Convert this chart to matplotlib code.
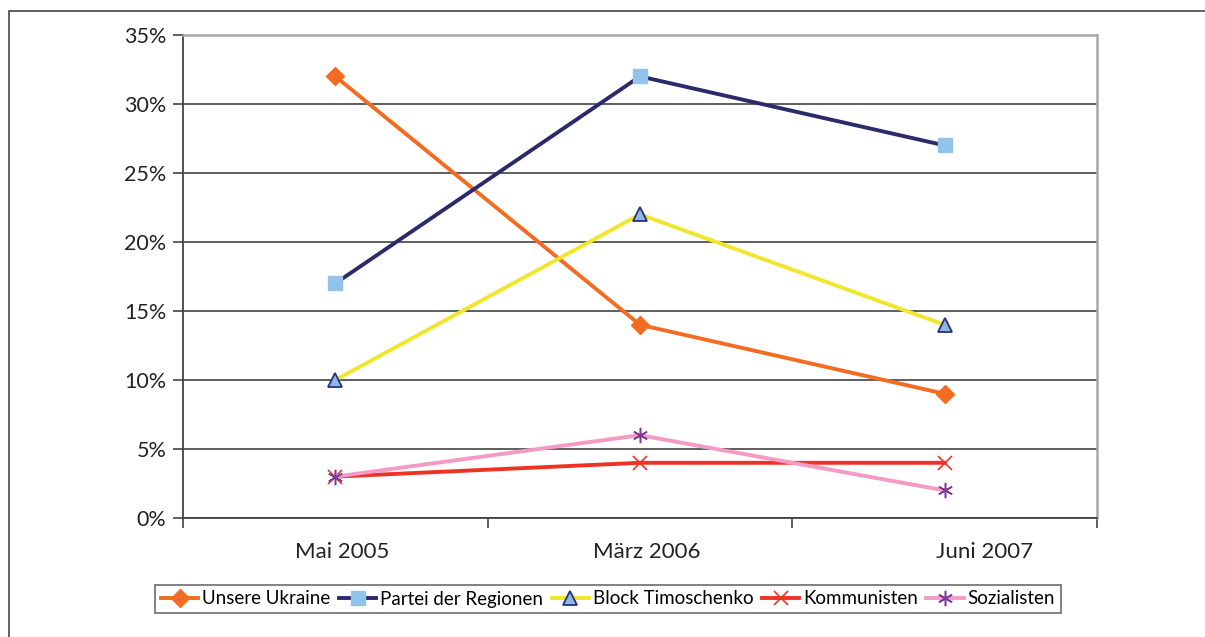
import matplotlib.pyplot as plt
import matplotlib.transforms as mtransforms
from matplotlib.patches import Rectangle
from matplotlib.ticker import FuncFormatter

plt.rcParams['font.family'] = ['Lato', 'DejaVu Sans']

# ---- Data ----
categories = ["Mai 2005", "März 2006", "Juni 2007"]
unsere_ukraine = [32, 14, 9]
partei_regionen = [17, 32, 27]
block_timoschenko = [10, 22, 14]
kommunisten = [3, 4, 4]
sozialisten = [3, 6, 2]

fig = plt.figure(figsize=(12.05, 6.37), dpi=100)
ax = fig.add_axes([183 / 1205, 1 - 518 / 637, (1097 - 183) / 1205, (518 - 35) / 637])

# outer frame (open on the right and bottom)
fig.patches.append(Rectangle((9 / 1205, -0.1), 1.2, 1 - 11 / 637 + 0.1,
                             transform=fig.transFigure, fill=False,
                             edgecolor='#555555', linewidth=1.3))

x = range(len(categories))
lw = 2.8
ax.plot(x, unsere_ukraine, color='#f36c21', lw=lw, marker='D', ms=9,
        mfc='#f36c21', mec='#f36c21', label='Unsere Ukraine', zorder=3)
ax.plot(x, partei_regionen, color='#2b2a6b', lw=lw, marker='s', ms=9.5,
        mfc='#93c2ea', mec='#93c2ea', label='Partei der Regionen', zorder=3)
ax.plot(x, block_timoschenko, color='#f1e62c', lw=lw, marker='^', ms=10,
        mfc='#8fb7e2', mec='#27307a', mew=1.3, label='Block Timoschenko', zorder=3)
ax.plot(x, kommunisten, color='#ee3224', lw=lw, marker='x', ms=10, mew=1.2,
        mec='#ee3224', label='Kommunisten', zorder=3)
ax.plot(x, sozialisten, color='#f59ac2', lw=lw, marker=(6, 2, 0), ms=11, mew=1.1,
        mec='#7b3a96', label='Sozialisten', zorder=3)

ax.set_xlim(-0.5, 2.5)
ax.set_ylim(0, 35)
ax.set_yticks(range(0, 36, 5))
ax.yaxis.set_major_formatter(FuncFormatter(lambda v, p: f"{int(v)}%"))
ax.set_xticks(list(x))
ax.set_xticklabels(categories)
ax.set_xticks([-0.5, 0.5, 1.5, 2.5], minor=True)
ax.tick_params(axis='x', which='major', length=0, pad=17, labelsize=16, labelcolor='#222222')
ax.tick_params(axis='x', which='minor', length=7, color='#444444', width=1.2)
ax.tick_params(axis='y', length=7, color='#444444', width=1.2, pad=5,
               labelsize=15.5, labelcolor='#222222')

offsets = [7, 7, 40]
for lab, dx in zip(ax.get_xticklabels(), offsets):
    lab.set_transform(lab.get_transform() +
                      mtransforms.ScaledTranslation(dx / 100, 0, fig.dpi_scale_trans))

ax.grid(axis='y', color='#333333', linewidth=1.1, zorder=1)
ax.set_axisbelow(True)
for s in ['left', 'bottom']:
    ax.spines[s].set_color('#444444')
    ax.spines[s].set_linewidth(1.3)
for s in ['top', 'right']:
    ax.spines[s].set_color('#a8a8a8')
    ax.spines[s].set_linewidth(1.8)

leg = ax.legend(loc='center', bbox_to_anchor=(608 / 1205, 1 - 599 / 637),
                bbox_transform=fig.transFigure, ncol=5, frameon=True,
                fancybox=False, edgecolor='#555555', fontsize=13.5,
                handlelength=2.0, handletextpad=0.2, columnspacing=0.45,
                borderpad=0.3, borderaxespad=0)
leg.get_frame().set_linewidth(1.3)

fig.savefig('out.png', dpi=100)
